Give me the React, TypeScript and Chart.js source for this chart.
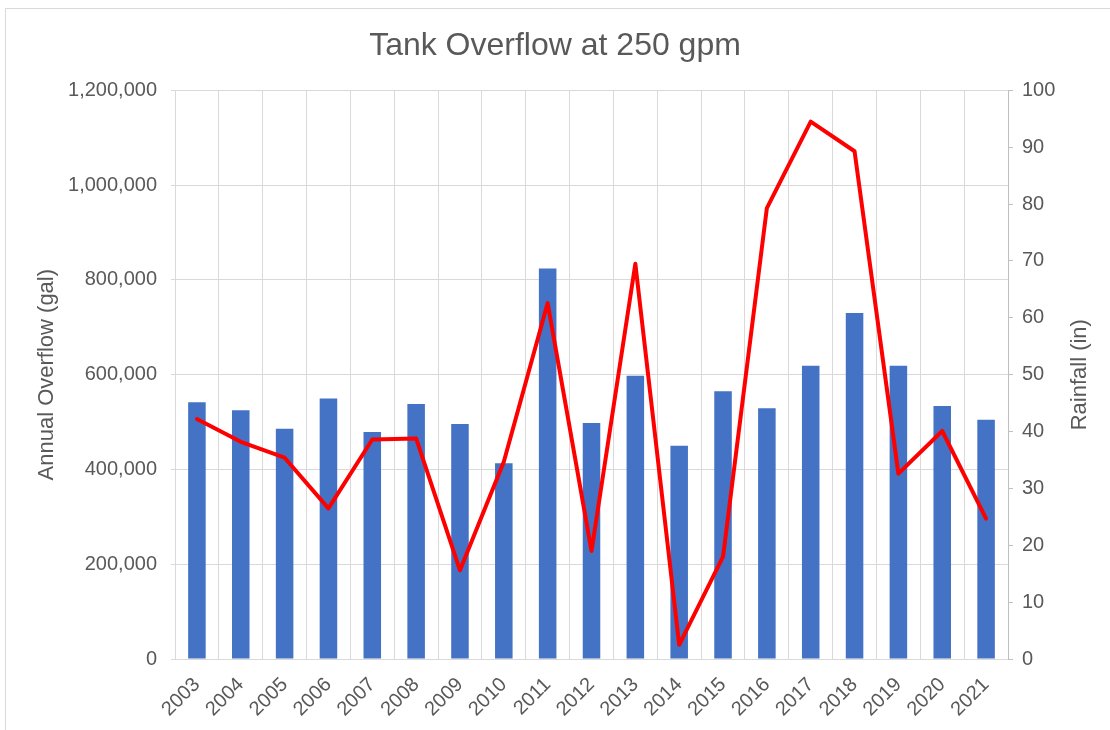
import React, { useEffect, useRef } from "react";
import { Chart, registerables } from "chart.js";

Chart.register(...registerables);

const chartTitle = "Tank Overflow at 250 gpm";
const leftAxisTitle = "Annual Overflow (gal)";
const rightAxisTitle = "Rainfall (in)";

const years = [
  "2003", "2004", "2005", "2006", "2007", "2008", "2009", "2010", "2011", "2012",
  "2013", "2014", "2015", "2016", "2017", "2018", "2019", "2020", "2021",
];

const overflowGal = [
  542000, 525000, 486000, 550000, 479000, 538000, 496000, 413000, 824000, 498000,
  598000, 450000, 565000, 529000, 619000, 730000, 619000, 534000, 505000,
];

const rainfallIn = [
  42.2, 38.2, 35.4, 26.5, 38.6, 38.8, 15.6, 34.7, 62.6, 19.0,
  69.5, 2.5, 18.0, 79.3, 94.5, 89.3, 32.6, 40.1, 24.7,
];

const leftMin = 0;
const leftMax = 1200000;
const leftStep = 200000;
const rightMin = 0;
const rightMax = 100;
const rightStep = 10;

const FONT = "'Liberation Sans', Arial, sans-serif";
const TEXT = "#595959";
const GRID = "#d9d9d9";
const AXIS = "#bfbfbf";

const framePlugin = {
  id: "frame",
  beforeDraw(chart: any) {
    const ctx = chart.ctx;
    ctx.save();
    ctx.strokeStyle = GRID;
    ctx.lineWidth = 1;
    ctx.beginPath();
    ctx.moveTo(5.5, chart.height);
    ctx.lineTo(5.5, 8.5);
    ctx.lineTo(chart.width, 8.5);
    ctx.stroke();
    ctx.restore();
  },
};

const rightTitlePlugin = {
  id: "rightTitle",
  afterDraw(chart: any) {
    const ctx = chart.ctx;
    const area = chart.chartArea;
    ctx.save();
    ctx.fillStyle = TEXT;
    ctx.font = `22px ${FONT}`;
    ctx.textAlign = "center";
    ctx.textBaseline = "middle";
    ctx.translate(1080, (area.top + area.bottom) / 2);
    ctx.rotate(-Math.PI / 2);
    ctx.fillText(rightAxisTitle, 0, 0);
    ctx.restore();
  },
};

export default function App() {
  const canvasRef = useRef<HTMLCanvasElement | null>(null);

  useEffect(() => {
    const canvas = canvasRef.current;
    if (!canvas) return;
    const chart = new Chart(canvas, {
      type: "bar",
      data: {
        labels: years,
        datasets: [
          {
            type: "line",
            label: "Rainfall (in)",
            data: rainfallIn,
            yAxisID: "y1",
            borderColor: "#ff0000",
            backgroundColor: "#ff0000",
            borderWidth: 4,
            pointRadius: 0,
            tension: 0,
            borderJoinStyle: "round",
            borderCapStyle: "round",
            order: 1,
          } as any,
          {
            type: "bar",
            label: "Annual Overflow (gal)",
            data: overflowGal,
            yAxisID: "y",
            backgroundColor: "#4472c4",
            borderWidth: 0,
            barPercentage: 0.4,
            categoryPercentage: 1.0,
            order: 2,
          } as any,
        ],
      },
      options: {
        animation: false,
        responsive: false,
        maintainAspectRatio: false,
        layout: { padding: 0 },
        plugins: {
          legend: { display: false },
          tooltip: { enabled: false },
          title: {
            display: true,
            text: chartTitle,
            color: TEXT,
            font: { family: FONT, size: 32, weight: "normal" },
            padding: { top: 27, bottom: 25 },
          },
        },
        scales: {
          x: {
            grid: {
              color: GRID,
              lineWidth: 1,
              offset: true,
              drawTicks: false,
            },
            border: { display: true, color: GRID },
            ticks: {
              color: TEXT,
              font: { family: FONT, size: 20 },
              minRotation: 45,
              maxRotation: 45,
              autoSkip: false,
              padding: 14,
            },
            afterFit(scale: any) {
              scale.height = 71;
            },
          },
          y: {
            position: "left",
            min: leftMin,
            max: leftMax,
            grid: {
              color: GRID,
              lineWidth: 1,
              drawTicks: true,
              tickLength: 4,
              tickColor: GRID,
            },
            border: { display: true, color: GRID },
            ticks: {
              stepSize: leftStep,
              color: TEXT,
              font: { family: FONT, size: 20 },
              padding: 14,
              callback: (v: any) => Number(v).toLocaleString("en-US"),
            },
            title: {
              display: true,
              text: leftAxisTitle,
              color: TEXT,
              font: { family: FONT, size: 22 },
              padding: { top: 34, bottom: 0 },
            },
            afterFit(scale: any) {
              scale.width = 175;
            },
          },
          y1: {
            position: "right",
            min: rightMin,
            max: rightMax,
            grid: {
              drawOnChartArea: false,
              drawTicks: true,
              tickLength: 5,
              tickColor: AXIS,
            },
            border: { display: true, color: AXIS },
            ticks: {
              stepSize: rightStep,
              color: TEXT,
              font: { family: FONT, size: 20 },
              padding: 9,
            },
            afterFit(scale: any) {
              scale.width = 102;
            },
          },
        },
      },
      plugins: [framePlugin, rightTitlePlugin],
    });
    return () => chart.destroy();
  }, []);

  return (
    <div style={{ position: "fixed", left: 0, top: 0, width: 1110, height: 730, background: "#fff" }}>
      <canvas ref={canvasRef} width={1110} height={730} style={{ width: 1110, height: 730, display: "block" }} />
    </div>
  );
}
